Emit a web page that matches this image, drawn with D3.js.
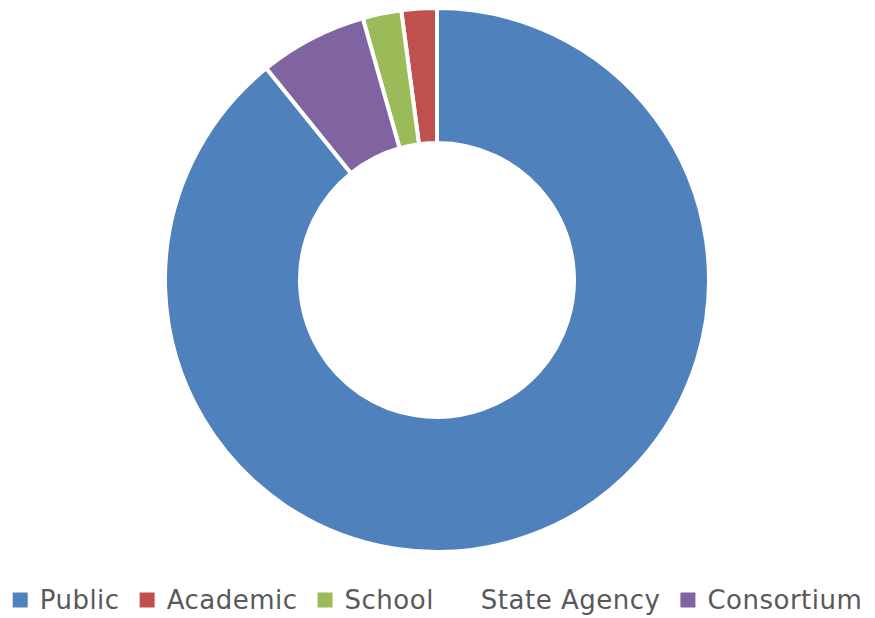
<!DOCTYPE html>
<html>
<head>
<meta charset="utf-8">
<script src="https://cdn.jsdelivr.net/npm/d3@7"></script>
<style>
  body { margin: 0; background: #fff; }
  svg { display: block; }
</style>
</head>
<body>
<div id="chart"></div>
<script>
// share of libraries by type (percent)
var categories = ['Public', 'Academic', 'School', 'State Agency', 'Consortium'];
var values = [89.2, 2.1, 2.3, 0, 6.4];
var colors = ['#4F81BD', '#C0504D', '#9BBB59', '#FFFFFF', '#8064A2'];

// ring goes clockwise from 12 o'clock: Public first, then the rest in reverse
var drawOrder = ['Public', 'Consortium', 'State Agency', 'School', 'Academic'];

var width = 875;
var height = 618;
var cx = 437, cy = 280;
var outerR = 272, innerR = 137;

var data = categories.map(function(c, i) {
  return {name: c, value: values[i], color: colors[i]};
});

var svg = d3.select('#chart')
    .append('svg')
    .attr('width', width)
    .attr('height', height);

var pie = d3.pie()
    .value(function(d) { return d.value; })
    .sort(function(a, b) { return drawOrder.indexOf(a.name) - drawOrder.indexOf(b.name); });

var arc = d3.arc()
    .innerRadius(innerR)
    .outerRadius(outerR);

svg.append('g')
    .attr('transform', 'translate(' + cx + ',' + cy + ')')
  .selectAll('path')
    .data(pie(data).filter(function(d) { return d.data.value > 0; }))
    .enter().append('path')
    .attr('d', arc)
    .attr('fill', function(d) { return d.data.color; })
    .attr('stroke', '#fff')
    .attr('stroke-width', 4)
    .attr('stroke-linejoin', 'round');

// legend, laid out in a row and centred
var box = 15, boxGap = 12, itemGap = 20;
var legend = svg.append('g').attr('class', 'legend');

var items = legend.selectAll('g')
    .data(data)
    .enter().append('g');

items.append('rect')
    .attr('width', box)
    .attr('height', box)
    .attr('y', -box / 2)
    .attr('fill', function(d) { return d.color; });

items.append('text')
    .attr('x', box + boxGap)
    .attr('dy', '0.36em')
    .style('font-family', 'DejaVu Sans, sans-serif')
    .style('font-size', '26px')
    .style('letter-spacing', '0.5px')
    .attr('fill', '#595959')
    .text(function(d) { return d.name; });

var xs = [], x = 0;
items.each(function() {
  xs.push(x);
  x += box + boxGap + d3.select(this).select('text').node().getComputedTextLength() + itemGap;
});
var total = x - itemGap;
var x0 = (width - total) / 2;

items.attr('transform', function(d, i) { return 'translate(' + (x0 + xs[i]) + ',600)'; });
</script>
</body>
</html>
